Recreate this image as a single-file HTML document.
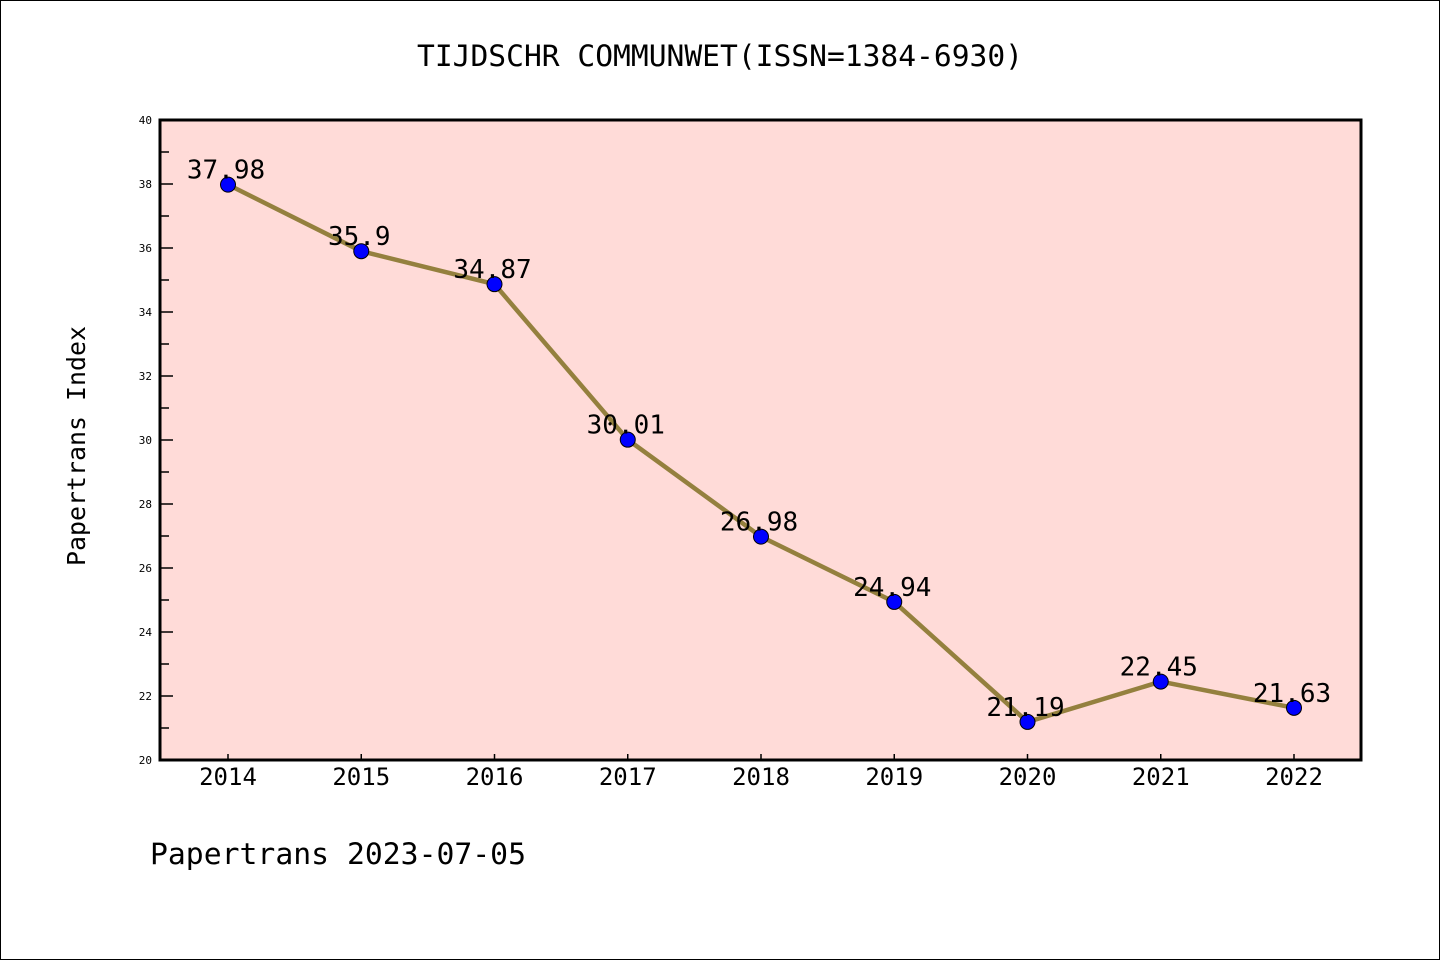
<!DOCTYPE html>
<html><head><meta charset="utf-8"><style>
html,body{margin:0;padding:0;background:#fff}
svg{display:block;font-family:"DejaVu Sans Mono","Liberation Mono",monospace}
</style></head><body>
<svg width="1440" height="960" xmlns="http://www.w3.org/2000/svg">
<rect x="0.5" y="0.5" width="1439" height="959" fill="#fff" stroke="#000" stroke-width="1"/>
<text x="720" y="66" font-size="29" text-anchor="middle" textLength="606" lengthAdjust="spacingAndGlyphs">TIJDSCHR COMMUNWET(ISSN=1384-6930)</text>
<rect x="160" y="120" width="1201" height="640" fill="#ffdbd8"/>
<g id="axes"></g>
<g id="series"></g>
<rect x="160" y="120" width="1201" height="640" fill="none" stroke="#000" stroke-width="3"/>
<text transform="translate(85,446) rotate(-90)" font-size="25" text-anchor="middle" textLength="240" lengthAdjust="spacingAndGlyphs">Papertrans Index</text>
<text x="150" y="864" font-size="29" textLength="376" lengthAdjust="spacingAndGlyphs">Papertrans 2023-07-05</text>
</svg>
<script>
const years=['2014','2015','2016','2017','2018','2019','2020','2021','2022'];
const values=[37.98,35.9,34.87,30.01,26.98,24.94,21.19,22.45,21.63];
const labels=['37.98','35.9','34.87','30.01','26.98','24.94','21.19','22.45','21.63'];
const yTicks=[20,22,24,26,28,30,32,34,36,38,40];
const NS='http://www.w3.org/2000/svg';
const x=i=>228+i*(1294-228)/8;
const y=v=>760-(v-20)*32;
function mk(tag,at,parent,txt){const e=document.createElementNS(NS,tag);for(const k in at)e.setAttribute(k,at[k]);if(txt!==undefined)e.textContent=txt;parent.appendChild(e);return e;}
const ax=document.getElementById('axes'),se=document.getElementById('series');
yTicks.forEach(t=>{
 const l=mk('line',{x1:160,x2:173,y1:y(t),y2:y(t),stroke:'#000','stroke-width':1.5},ax);
 
 
 const tx=mk('text',{x:152,y:y(t)+4,'font-size':11,'text-anchor':'end'},ax,String(t));
 
 
 if(t<40){const m=mk('line',{x1:160,x2:169,y1:y(t+1),y2:y(t+1),stroke:'#000','stroke-width':1.5},ax);
 
 }
});
years.forEach((yr,i)=>{
 const l=mk('line',{x1:x(i),x2:x(i),y1:760,y2:754,stroke:'#000','stroke-width':1.5},ax);
 
 
 const tx=mk('text',{x:x(i),y:785,'font-size':24,'text-anchor':'middle'},ax,yr);
 
 
});
const p=mk('polyline',{points:values.map((v,i)=>x(i)+','+y(v)).join(' '),fill:'none',stroke:'#94803e','stroke-width':4.5},se);


values.forEach((v,i)=>{
 const c=mk('circle',{cx:x(i),cy:y(v),r:7.5,fill:'#0000ff',stroke:'#000','stroke-width':1},se);
 
 
 const t=mk('text',{x:x(i)-2,y:y(v)-6,'font-size':26,'text-anchor':'middle'},se,labels[i]);
 
 
});
</script>
</body></html>
